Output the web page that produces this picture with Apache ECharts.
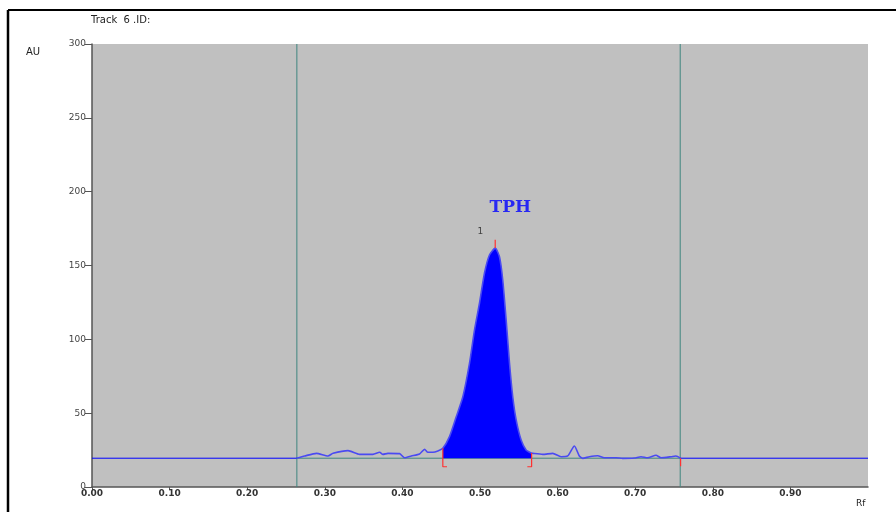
<!DOCTYPE html>
<html>
<head>
<meta charset="utf-8">
<script src="https://cdn.jsdelivr.net/npm/echarts@6/dist/echarts.min.js"></script>
<style>
  html, body { margin: 0; padding: 0; background: #fff; }
  #chart { width: 896px; height: 512px; }
</style>
</head>
<body>
<div id="chart"></div>
<script>
var baseline = 19.5;
var windowStart = 0.264;
var windowEnd = 0.758;

var xTicks = [0, 0.1, 0.2, 0.3, 0.4, 0.5, 0.6, 0.7, 0.8, 0.9];

// noisy scan trace inside the window
var noiseLeftRf = [0.2635, 0.2741, 0.2892, 0.3041, 0.3106, 0.3299, 0.3449, 0.3620, 0.3707, 0.3749, 0.3813, 0.3964, 0.4028, 0.4115, 0.4221, 0.4286, 0.4328, 0.4393, 0.4457, 0.4521];
var noiseLeftAu = [19.5, 21.0, 22.8, 21.0, 22.8, 24.6, 22.1, 22.1, 23.5, 22.1, 22.8, 22.6, 19.8, 21.0, 22.4, 25.5, 23.5, 23.5, 24.4, 26.2];

var peakRf = [0.4521, 0.4607, 0.4694, 0.4779, 0.4865, 0.4929, 0.4994, 0.5058, 0.5122, 0.5196, 0.5251, 0.5293, 0.5337, 0.5380, 0.5422, 0.5466, 0.5530, 0.5594, 0.5659];
var peakAu = [26.2, 34.1, 47.6, 61.1, 83.9, 106.3, 124.6, 144.9, 157.1, 161.8, 155.9, 140.2, 113.1, 84.0, 61.1, 45.4, 31.8, 25.1, 23.0];

var noiseRightRf = [0.5659, 0.5680, 0.5808, 0.5937, 0.6045, 0.6130, 0.6216, 0.6280, 0.6323, 0.6409, 0.6516, 0.6602, 0.6753, 0.6838, 0.6988, 0.7075, 0.7160, 0.7268, 0.7332, 0.7461, 0.7525, 0.7589];
var noiseRightAu = [23.0, 22.8, 22.1, 22.8, 20.5, 21.0, 27.8, 21.0, 19.4, 20.5, 21.2, 19.8, 19.8, 19.4, 19.6, 20.5, 19.8, 21.5, 19.8, 20.5, 21.0, 19.4];

// integration marks (Rf, AU pairs per segment)
var redMarks = [
  [[0.4521, 26.2], [0.4521, 13.7], [0.4575, 13.7]],
  [[0.5665, 23.0], [0.5665, 13.7], [0.5610, 13.7]],
  [[0.7585, 19.5], [0.7585, 14.0]],
  [[0.5196, 161.8], [0.5196, 167.4]]
];

var peakName = 'TPH';
var peakLabelPos = [0.539, 189];
var peakNumber = '1';
var peakNumberPos = [0.5006, 172.7];

function pairs(xs, ys) {
  return xs.map(function (x, i) { return [x, ys[i]]; });
}

var traceData = pairs(noiseLeftRf, noiseLeftAu)
  .concat(pairs(peakRf, peakAu))
  .concat(pairs(noiseRightRf, noiseRightAu));

var teal = '#3f857f';

var series = [
  {
    type: 'line', data: [[windowStart, 0], [windowStart, 300]],
    symbol: 'none', lineStyle: { color: teal, width: 1 }, z: 2
  },
  {
    type: 'line', data: [[windowEnd, 0], [windowEnd, 300]],
    symbol: 'none', lineStyle: { color: teal, width: 1 }, z: 2
  },
  {
    type: 'line', data: [[0, baseline], [windowStart, baseline]],
    symbol: 'none', lineStyle: { color: '#0000ff', width: 1 }, z: 3
  },
  {
    type: 'line', data: [[windowEnd, baseline], [1, baseline]],
    symbol: 'none', lineStyle: { color: '#0000ff', width: 1 }, z: 3
  },
  {
    type: 'line', data: [[windowStart, baseline], [windowEnd, baseline]],
    symbol: 'none', lineStyle: { color: teal, width: 1 }, z: 3
  },
  {
    type: 'line', data: pairs(peakRf, peakAu), smooth: 0.3,
    symbol: 'none', lineStyle: { width: 0 },
    areaStyle: { color: '#0000ff', opacity: 1, origin: baseline }, z: 4
  },
  {
    type: 'line', data: traceData, smooth: 0.2,
    symbol: 'none', lineStyle: { color: '#4a4af2', width: 1.6 }, z: 5
  },
  {
    type: 'scatter', data: [peakLabelPos], symbolSize: 0, z: 6,
    label: {
      show: true, position: 'inside', formatter: peakName,
      fontFamily: 'DejaVu Serif', fontWeight: 'bold', fontSize: 17, color: '#0000ff'
    }
  },
  {
    type: 'scatter', data: [peakNumberPos], symbolSize: 0, z: 6,
    label: {
      show: true, position: 'inside', formatter: peakNumber,
      fontFamily: 'DejaVu Sans', fontSize: 9, color: '#222'
    }
  }
];

redMarks.forEach(function (seg) {
  series.push({
    type: 'line', data: seg, symbol: 'none',
    lineStyle: { color: '#ff3030', width: 1.2 }, z: 7
  });
});

var chart = echarts.init(document.getElementById('chart'));
chart.setOption({
  animation: false,
  backgroundColor: '#fff',
  grid: {
    left: 92, right: 28, top: 44, bottom: 25,
    show: true, backgroundColor: '#c0c0c0', borderWidth: 0
  },
  xAxis: {
    type: 'value', min: 0, max: 1, interval: 0.1,
    axisLine: { show: true, lineStyle: { color: '#555', width: 1.5 } },
    axisTick: { show: true, length: 3, lineStyle: { color: '#555' } },
    axisLabel: {
      margin: 2, fontSize: 9, fontWeight: 'bold', color: '#333',
      fontFamily: 'DejaVu Sans', showMaxLabel: false,
      formatter: function (v) { return xTicks.indexOf(Math.round(v * 10) / 10) >= 0 ? v.toFixed(2) : ''; }
    },
    splitLine: { show: false }
  },
  yAxis: {
    type: 'value', min: 0, max: 300, interval: 50,
    axisLine: { show: true, lineStyle: { color: '#555', width: 1.5 } },
    axisTick: { show: true, length: 7, lineStyle: { color: '#555' } },
    axisLabel: { margin: 6, fontSize: 9, color: '#444', fontFamily: 'DejaVu Sans' },
    splitLine: { show: false }
  },
  graphic: [
    { type: 'line', shape: { x1: 8, y1: 10, x2: 896, y2: 10 }, style: { stroke: '#000', lineWidth: 2 } },
    { type: 'line', shape: { x1: 8, y1: 10, x2: 8, y2: 512 }, style: { stroke: '#000', lineWidth: 2.5 } },
    { type: 'text', left: 91, top: 15, style: { text: 'Track  6 .ID:', fontSize: 10, fill: '#222', fontFamily: 'DejaVu Sans' } },
    { type: 'text', left: 26, top: 47, style: { text: 'AU', fontSize: 10, fill: '#222', fontFamily: 'DejaVu Sans' } },
    { type: 'text', left: 856, top: 499, style: { text: 'Rf', fontSize: 9, fill: '#222', fontFamily: 'DejaVu Sans' } }
  ],
  series: series
});
</script>
</body>
</html>
